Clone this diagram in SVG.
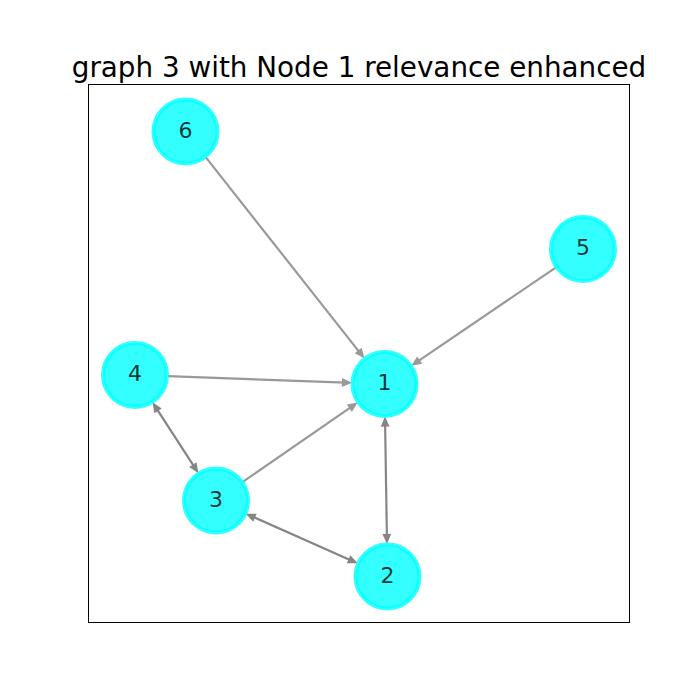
<svg xmlns="http://www.w3.org/2000/svg" width="700" height="700" viewBox="0 0 700 700">
<style>
.e1{stroke:#999999;stroke-width:2.2;fill:none}
.h1{fill:#999999;stroke:#999999;stroke-width:1.2;stroke-linejoin:miter}
.e2{stroke:#858585;stroke-width:2.2;fill:none}
.h2{fill:#858585;stroke:#858585;stroke-width:1.2;stroke-linejoin:miter}
.node circle{fill:#00ffff;fill-opacity:0.8;stroke:#00ffff;stroke-opacity:0.8;stroke-width:4}
.node text{font-family:"DejaVu Sans",sans-serif;font-size:22px;fill:#000;fill-opacity:0.8;text-anchor:middle}
</style>
<rect x="0" y="0" width="700" height="700" fill="#ffffff"/>
<text x="359" y="77" font-family="DejaVu Sans, sans-serif" font-size="27.8" text-anchor="middle" fill="#000">graph 3 with Node 1 relevance enhanced</text>
<rect x="88.5" y="84.5" width="541" height="538" fill="none" stroke="#000" stroke-width="1"/>
<g id="edges">
<line class="e1" x1="205.9" y1="157.4" x2="360.4" y2="353.4"/>
<polygon class="h1" points="363.5,357.3 355.8,353.2 361.3,348.8"/>
<line class="e1" x1="555.7" y1="267.6" x2="416.7" y2="362.1"/>
<polygon class="h1" points="412.6,364.9 417.2,357.5 421.2,363.3"/>
<line class="e1" x1="168.0" y1="376.2" x2="345.5" y2="382.6"/>
<polygon class="h1" points="350.5,382.8 342.4,386.0 342.6,379.0"/>
<line class="e1" x1="243.1" y1="481.7" x2="352.4" y2="406.1"/>
<polygon class="h1" points="356.5,403.3 351.9,410.8 347.9,405.0"/>
<line class="e2" x1="385.1" y1="423.0" x2="386.9" y2="537.5"/>
<polygon class="h2" points="386.97,542.5 383.35,534.55 390.35,534.45"/>
<polygon class="h2" points="385.03,418.0 381.65,426.05 388.65,425.95"/>
<line class="e2" x1="251.7" y1="516.3" x2="351.8" y2="560.7"/>
<polygon class="h2" points="356.4,562.7 347.7,562.7 350.5,556.3"/>
<polygon class="h2" points="247.1,514.3 253.0,520.7 255.8,514.3"/>
<line class="e2" x1="156.1" y1="407.8" x2="194.8" y2="467.7"/>
<polygon class="h2" points="197.56,471.9 190.3,467.1 196.1,463.3"/>
<polygon class="h2" points="153.4,403.6 154.8,412.2 160.6,408.4"/>
</g>
<g id="node1" class="node"><circle cx="384.5" cy="384" r="32"/><text x="384.5" y="390">1</text></g>
<g id="node2" class="node"><circle cx="387.5" cy="576.5" r="32"/><text x="387.5" y="582.5">2</text></g>
<g id="node3" class="node"><circle cx="216" cy="500.5" r="32"/><text x="216" y="506.5">3</text></g>
<g id="node4" class="node"><circle cx="135" cy="375" r="32"/><text x="135" y="381">4</text></g>
<g id="node5" class="node"><circle cx="583" cy="249" r="32"/><text x="583" y="255">5</text></g>
<g id="node6" class="node"><circle cx="185.5" cy="131.5" r="32"/><text x="185.5" y="137.5">6</text></g>
</svg>
